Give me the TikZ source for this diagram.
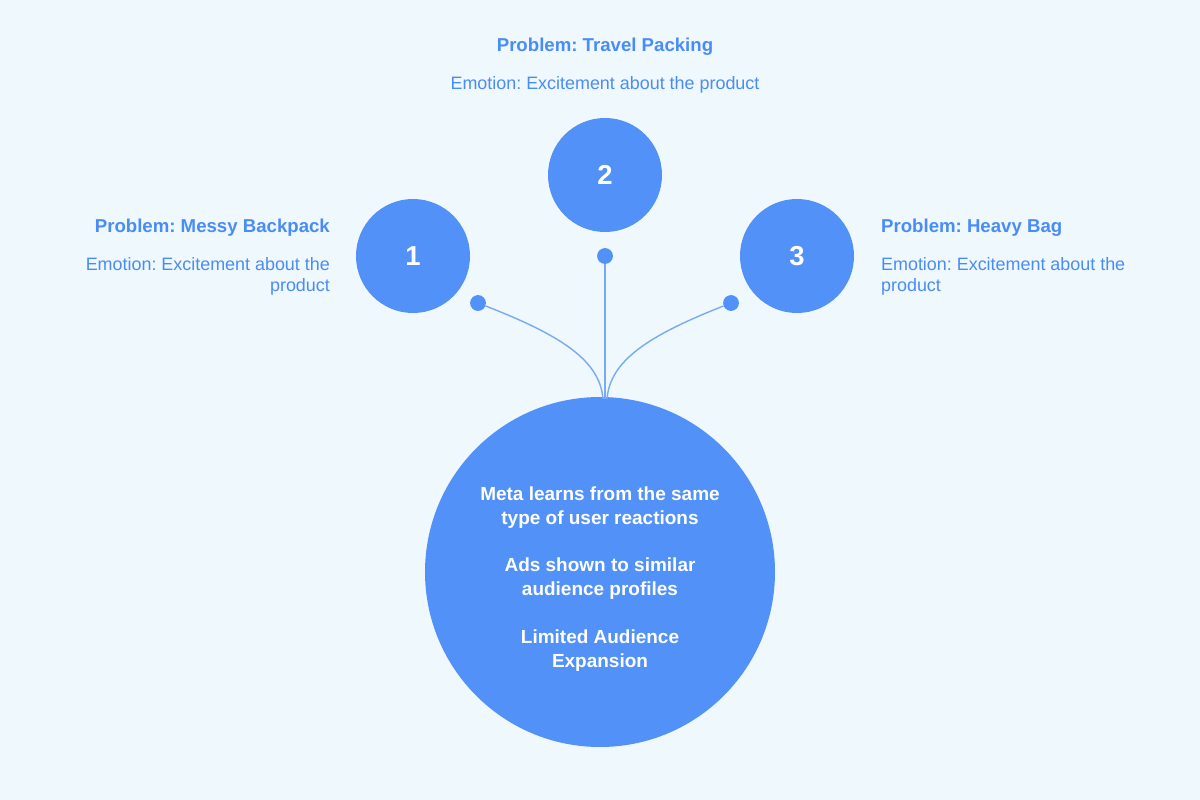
\documentclass[tikz,border=0pt]{standalone}
\usepackage{fontspec}
\setmainfont{Liberation Sans}
\frenchspacing
\usetikzlibrary{positioning}
\definecolor{bgblue}{HTML}{EEF8FD}
\definecolor{ballblue}{HTML}{5191F8}
\definecolor{txtblue}{HTML}{4A8CF7}
\definecolor{linkblue}{HTML}{7AAAF4}
\tikzset{
  ball/.style={circle, fill=ballblue, draw=none, text=white, font=\fontsize{39}{44}\selectfont\bfseries, minimum size=#1},
  knob/.style={circle, fill=ballblue, inner sep=0pt, minimum size=22.5pt},
  title/.style={text=txtblue, font=\fontsize{26.5}{30}\selectfont\bfseries, inner sep=0pt},
  note/.style={text=txtblue, font=\fontsize{25.5}{31}\selectfont, inner sep=0pt, align=#1},
  link/.style={draw=linkblue, line width=2pt}
}
\begin{document}
\begin{tikzpicture}[x=0.05cm,y=-0.05cm]
  \fill[bgblue] (0,0) rectangle (1200,800);
  \useasboundingbox (0,0) rectangle (1200,800);

  % circles
  \node[ball=5.7cm] (c1) at (413,256) {1};
  \node[ball=5.7cm] (c2) at (605,175) {2};
  \node[ball=5.7cm] (c3) at (797,256) {3};
  \node[ball=17.5cm] (hub) at (600,572) {};
  \node[text=white, font=\fontsize{27}{34}\selectfont\bfseries, align=center] (hubtext) at (600,579)
    {Meta learns from the same\\type of user reactions\\[34pt]Ads shown to similar\\audience profiles\\[34pt]Limited Audience\\Expansion};

  % knobs and links
  \node[knob] (k1) at (478,303) {};
  \node[knob] (k2) at (605,256) {};
  \node[knob] (k3) at (731,303) {};
  \coordinate (h1) at (603,399);
  \coordinate (h2) at (605,399);
  \coordinate (h3) at (607,399);
  \draw[link] (k1) .. controls (560,335) and (600,360) .. (h1);
  \draw[link] (k2) -- (h2);
  \draw[link] (k3) .. controls (650,335) and (610,360) .. (h3);

  % labels
  \node[title, anchor=east] (t1) at (330,228) {Problem: Messy Backpack};
  \node[note=right, anchor=north east] (e1) at (330,257) {Emotion: Excitement about the\\product};
  \node[title] (t2) at (605,47) {Problem: Travel Packing};
  \node[note=center] (e2) at (605,85) {Emotion: Excitement about the product};
  \node[title, anchor=west] (t3) at (881,228) {Problem: Heavy Bag};
  \node[note=left, anchor=north west] (e3) at (881,257) {Emotion: Excitement about the\\product};
\end{tikzpicture}
\end{document}
